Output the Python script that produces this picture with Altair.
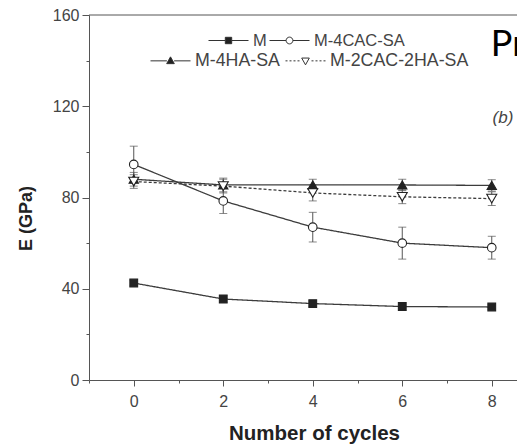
import altair as alt
import pandas as pd

# ---- data ----
cycles = [0, 2, 4, 6, 8]
series_names = ["M", "M-4CAC-SA", "M-4HA-SA", "M-2CAC-2HA-SA"]
E_M = [42.5, 35.5, 33.5, 32.2, 32.0]
err_M = [1.2, 1.5, 1.2, 1.6, 1.0]
E_CAC = [94.5, 78.5, 67.0, 60.0, 58.0]
err_CAC = [8.0, 5.5, 6.5, 7.0, 5.0]
E_HA = [88.0, 85.5, 85.5, 85.5, 85.3]
err_HA = [3.0, 3.0, 2.5, 2.5, 2.5]
E_MIX = [87.0, 85.0, 82.0, 80.3, 79.5]
err_MIX = [3.0, 3.0, 3.5, 3.0, 3.0]

x_ticks = [-1, 0, 1, 2, 3, 4, 5, 6, 7, 8]
y_ticks = [0, 20, 40, 60, 80, 100, 120, 140, 160]
y_top = [160]

ann_b_text = ["(b)"]
ann_b_x = [8.25]
ann_b_y = [115.0]
ann_p_text = ["Pre"]
ann_p_x = [7.98]
ann_p_y = [142.0]

values = [E_M, E_CAC, E_HA, E_MIX]
errors = [err_M, err_CAC, err_HA, err_MIX]
rows = []
for name, vals, errs in zip(series_names, values, errors):
    for c, v, e in zip(cycles, vals, errs):
        rows.append({"cycle": c, "E": v, "lo": v - e, "hi": v + e, "series": name})
df = pd.DataFrame(rows)

FONT = "Liberation Sans"

xscale = alt.Scale(domain=[-1, 8.564], nice=False, zero=False)
yscale = alt.Scale(domain=[0, 160], nice=False, zero=True)

x_axis = alt.Axis(
    values=x_ticks, grid=False,
    labelExpr="datum.value >= 0 && datum.value % 2 === 0 ? datum.label : ''",
    tickSize={"condition": {"test": "datum.value % 2 === 0", "value": 6}, "value": 3},
    tickColor="#555", domainColor="#555", labelFont=FONT, labelFontSize=16,
    labelColor="#444", labelPadding=7, title="Number of cycles",
    titleFont=FONT, titleFontSize=20.5, titleFontWeight="bold", titleColor="#222",
    titlePadding=14, titleX=225,
)
y_axis = alt.Axis(
    values=y_ticks, grid=False,
    labelExpr="datum.value % 40 === 0 ? datum.label : ''",
    tickSize={"condition": {"test": "datum.value % 40 === 0", "value": 7}, "value": 3},
    tickColor="#555", domainColor="#555", labelFont=FONT, labelFontSize=16,
    labelColor="#444", labelPadding=3, title="E (GPa)",
    titleFont=FONT, titleFontSize=18, titleFontWeight="bold", titleColor="#222",
    titleX=-54, titleY=203,
)


def X(field="cycle"):
    return alt.X(f"{field}:Q", scale=xscale, axis=x_axis)


def Y(field="E"):
    return alt.Y(f"{field}:Q", scale=yscale, axis=y_axis)


base = alt.Chart(df)

lines = base.mark_line(color="#3c3c3c", strokeWidth=1.3).encode(
    x=X(), y=Y(),
    detail="series:N",
    strokeDash=alt.StrokeDash(
        "series:N",
        scale=alt.Scale(domain=series_names, range=[[1, 0], [1, 0], [1, 0], [3, 2]]),
        legend=None,
    ),
)

top_border = alt.Chart(pd.DataFrame({"v": y_top})).mark_rule(
    color="#555", strokeWidth=1).encode(y=Y("v"))

err_rule = base.mark_rule(color="#555", strokeWidth=1).encode(
    x=X(), y=Y("lo"), y2="hi:Q"
)
cap_lo = base.mark_tick(color="#555", thickness=1, size=8, orient="horizontal").encode(
    x=X(), y=Y("lo")
)
cap_hi = base.mark_tick(color="#555", thickness=1, size=8, orient="horizontal").encode(
    x=X(), y=Y("hi")
)

points = base.mark_point(opacity=1, fillOpacity=1, stroke="#222", strokeWidth=1.1).encode(
    x=X(), y=Y(),
    shape=alt.Shape("series:N", scale=alt.Scale(
        domain=series_names, range=["square", "circle", "triangle-up", "triangle-down"]),
        legend=None),
    fill=alt.Fill("series:N", scale=alt.Scale(
        domain=series_names, range=["#222222", "white", "#222222", "white"]),
        legend=None),
    size=alt.Size("series:N", scale=alt.Scale(
        domain=series_names, range=[60, 100, 95, 95]), legend=None),
)

# legend symbols: line + marker as custom paths
p_m = "M-1,0H-0.16M0.16,0H1M-0.16,-0.16H0.16V0.16H-0.16Z"
p_c = "M-1,0H-0.17M0.17,0H1M0.17,0A0.17,0.17,0,1,1,-0.17,0A0.17,0.17,0,1,1,0.17,0Z"
p_t = "M-1,0H-0.18M0.18,0H1M0,-0.2L0.19,0.14L-0.19,0.14Z"
p_d = ("M-1,0H-0.9M-0.8,0H-0.7M-0.6,0H-0.5M-0.4,0H-0.3"
       "M0.3,0H0.4M0.5,0H0.6M0.7,0H0.8M0.9,0H1M0,0.2L0.19,-0.14L-0.19,-0.14Z")


def legend_layer(field, names, paths, fills, lx, ly, fs, cpad):
    lg = alt.Legend(
        orient="none", legendX=lx, legendY=ly, direction="horizontal", title=None,
        symbolSize=1600, symbolStrokeColor="#222", symbolStrokeWidth=1,
        symbolOpacity=1, labelFont=FONT, labelFontSize=fs, labelColor="#444",
        labelOffset=4, columnPadding=cpad, padding=0,
    )
    return base.transform_calculate(**{field: "datum.series"}).transform_filter(
        "false").mark_point(opacity=1, filled=False, strokeWidth=1).encode(
        x=X(), y=Y(),
        shape=alt.Shape(f"{field}:N", scale=alt.Scale(domain=names, range=paths), legend=lg),
        fill=alt.Fill(f"{field}:N", scale=alt.Scale(domain=names, range=fills), legend=lg),
        stroke=alt.Stroke(f"{field}:N", scale=alt.Scale(domain=names, range=["#333333", "#333333"]),
                          legend=lg),
    )


legA = legend_layer("lgA", series_names[:2], [p_m, p_c], ["#222222", "white"], 119, 5, 16.5, 0)
legB = legend_layer("lgB", series_names[2:], [p_t, p_d], ["#222222", "white"], 61, 25, 17.8, 3)

df_b = pd.DataFrame({"t": ann_b_text, "x": ann_b_x, "y": ann_b_y})
df_p = pd.DataFrame({"t": ann_p_text, "x": ann_p_x, "y": ann_p_y})
ann_b = alt.Chart(df_b).mark_text(font=FONT, fontSize=17, fontStyle="italic",
                                   color="#444", align="center").encode(
    x=X("x"), y=Y("y"), text="t:N")
ann_p = alt.Chart(df_p).mark_text(font="Lato", fontSize=36, color="#000", align="left",
                                   baseline="alphabetic").encode(
    x=X("x"), y=Y("y"), text="t:N")

chart = alt.layer(
    lines, top_border, err_rule, cap_lo, cap_hi, points, legA, legB, ann_b, ann_p
).resolve_scale(
    shape="independent", fill="independent", size="independent", stroke="independent"
).properties(
    width=428, height=365,
    autosize=alt.AutoSizeParams(type="none"),
    padding={"left": 81, "top": 7, "right": 0, "bottom": 66},
    background="white",
).configure_view(stroke=None)

chart.save("out.html", embed_options={"renderer": "svg", "actions": False})
